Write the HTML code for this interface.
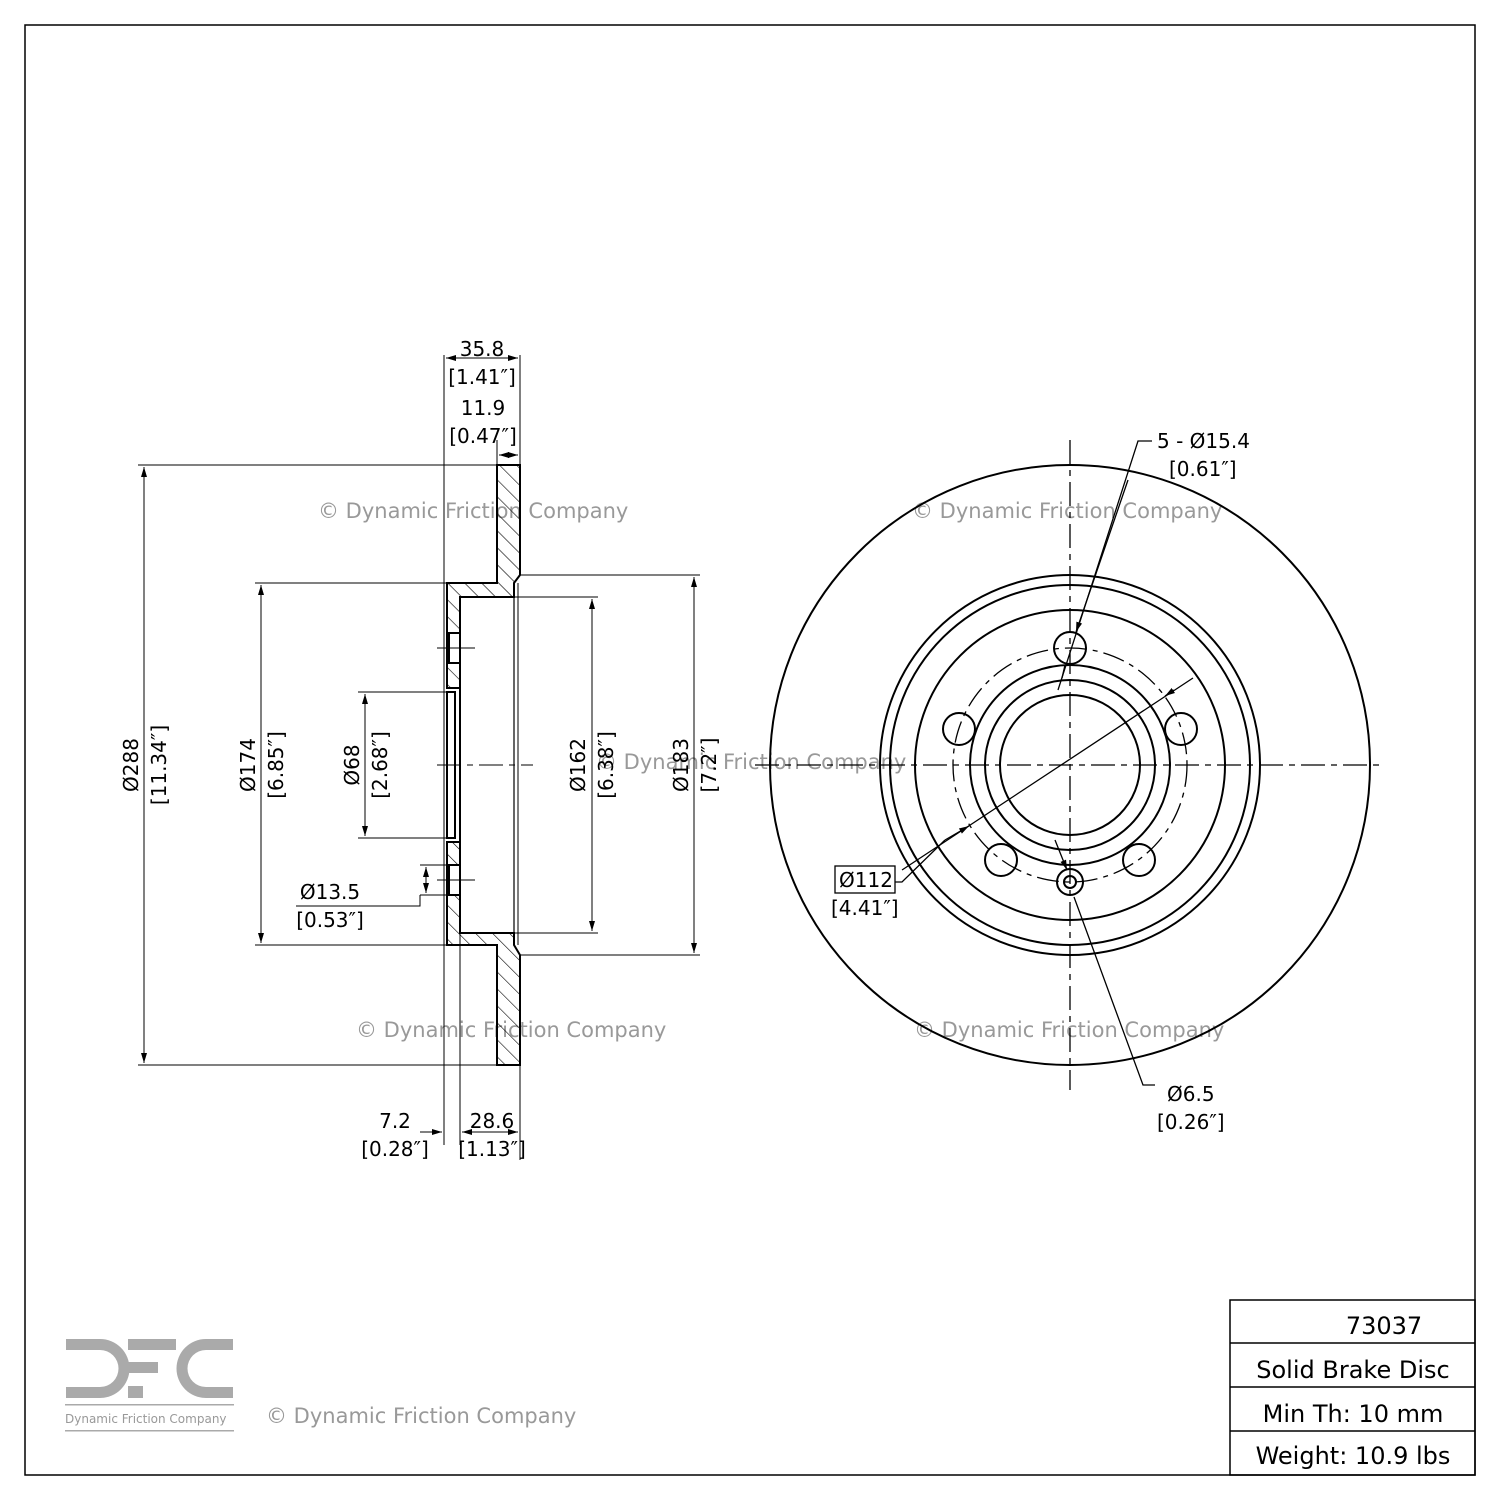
<!DOCTYPE html>
<html><head><meta charset="utf-8"><style>
body{margin:0;background:#fff}
svg{display:block}
text{font-family:"DejaVu Sans","Liberation Sans",sans-serif;}
</style></head><body>
<svg width="1500" height="1500" viewBox="0 0 1500 1500" xmlns="http://www.w3.org/2000/svg">
<defs>
<pattern id="h" patternUnits="userSpaceOnUse" width="12" height="12" patternTransform="rotate(-45)"><line x1="0" y1="0" x2="0" y2="12" stroke="#000" stroke-width="1.2"/></pattern>
<marker id="a" markerWidth="10" markerHeight="8" refX="10" refY="4" orient="auto-start-reverse" markerUnits="userSpaceOnUse"><path d="M0,1 L10,4 L0,7z" fill="#000"/></marker>
</defs>
<rect x="25" y="25" width="1450" height="1450" fill="none" stroke="#000" stroke-width="1.5"/>

<g fill="#999" font-size="21">
<text x="318" y="518">© Dynamic Friction Company</text>
<text x="912" y="518">© Dynamic Friction Company</text>
<text x="596" y="769">© Dynamic Friction Company</text>
<text x="356" y="1037">© Dynamic Friction Company</text>
<text x="914" y="1037">© Dynamic Friction Company</text>
<text x="266" y="1423">© Dynamic Friction Company</text>
</g>

<g stroke="#000" fill="url(#h)" stroke-width="2">
<path d="M497,465 H520 V575 L514,583 V597 H460 V688 H447 V583 H497 Z"/>
<path d="M497,1065 H520 V955 L514,945 V933 H460 V842 H447 V945 H497 Z"/>
<rect x="447" y="692" width="8" height="146" fill="#fff"/>
<rect x="449" y="633" width="11" height="30" fill="#fff"/>
<rect x="449" y="865" width="11" height="30" fill="#fff"/>
<line x1="460" y1="597" x2="460" y2="933"/>
<line x1="514" y1="597" x2="514" y2="933" stroke-width="1.2"/>
<line x1="518" y1="583" x2="518" y2="945" stroke-width="1"/>
</g>
<g stroke="#000" stroke-width="1" fill="none">
<line x1="444" y1="355" x2="444" y2="1145"/>
<line x1="460" y1="920" x2="460" y2="1145"/>
<line x1="520" y1="355" x2="520" y2="465"/>
<line x1="520" y1="1065" x2="520" y2="1160"/>
<line x1="497" y1="440" x2="497" y2="465"/>
<line x1="138" y1="465" x2="497" y2="465"/>
<line x1="138" y1="1065" x2="497" y2="1065"/>
<line x1="255" y1="583" x2="447" y2="583"/>
<line x1="255" y1="945" x2="447" y2="945"/>
<line x1="358" y1="692" x2="447" y2="692"/>
<line x1="358" y1="838" x2="447" y2="838"/>
<line x1="520" y1="575" x2="700" y2="575"/>
<line x1="520" y1="955" x2="700" y2="955"/>
<line x1="514" y1="597" x2="598" y2="597"/>
<line x1="514" y1="933" x2="598" y2="933"/>
<line x1="420" y1="865" x2="447" y2="865"/>
<line x1="420" y1="895" x2="447" y2="895"/>
<line x1="437" y1="648" x2="475" y2="648"/>
<line x1="437" y1="880" x2="475" y2="880"/>
<line x1="437" y1="765" x2="533" y2="765" stroke-dasharray="24,6,6,6"/>
<line x1="144" y1="467" x2="144" y2="1063" marker-start="url(#a)" marker-end="url(#a)"/>
<line x1="261" y1="585" x2="261" y2="943" marker-start="url(#a)" marker-end="url(#a)"/>
<line x1="365" y1="694" x2="365" y2="836" marker-start="url(#a)" marker-end="url(#a)"/>
<line x1="592" y1="599" x2="592" y2="931" marker-start="url(#a)" marker-end="url(#a)"/>
<line x1="694" y1="577" x2="694" y2="953" marker-start="url(#a)" marker-end="url(#a)"/>
<line x1="446" y1="358" x2="518" y2="358" marker-start="url(#a)" marker-end="url(#a)"/>
<line x1="499" y1="455" x2="518" y2="455" marker-start="url(#a)" marker-end="url(#a)"/>
<line x1="462" y1="1132" x2="518" y2="1132" marker-start="url(#a)" marker-end="url(#a)"/>
<line x1="420" y1="1132" x2="442" y2="1132" marker-end="url(#a)"/>
<line x1="426" y1="867" x2="426" y2="893" marker-start="url(#a)" marker-end="url(#a)"/>
<polyline points="296,906 420,906 420,895"/>
</g>
<g font-size="20" fill="#000" text-anchor="middle">
<text x="482" y="356">35.8</text><text x="482" y="384">[1.41″]</text>
<text x="483" y="415">11.9</text><text x="483" y="443">[0.47″]</text>
<text x="395" y="1128">7.2</text><text x="395" y="1156">[0.28″]</text>
<text x="492" y="1128">28.6</text><text x="492" y="1156">[1.13″]</text>
<text x="330" y="899">Ø13.5</text><text x="330" y="927">[0.53″]</text>
<text transform="translate(138,765) rotate(-90)">Ø288</text>
<text transform="translate(166,765) rotate(-90)">[11.34″]</text>
<text transform="translate(255,765) rotate(-90)">Ø174</text>
<text transform="translate(283,765) rotate(-90)">[6.85″]</text>
<text transform="translate(359,765) rotate(-90)">Ø68</text>
<text transform="translate(387,765) rotate(-90)">[2.68″]</text>
<text transform="translate(585,765) rotate(-90)">Ø162</text>
<text transform="translate(613,765) rotate(-90)">[6.38″]</text>
<text transform="translate(688,765) rotate(-90)">Ø183</text>
<text transform="translate(716,765) rotate(-90)">[7.2″]</text>
</g>

<g stroke="#000" fill="none" stroke-width="2">
<circle cx="1070" cy="765" r="300"/>
<circle cx="1070" cy="765" r="190"/>
<circle cx="1070" cy="765" r="180"/>
<circle cx="1070" cy="765" r="155"/>
<circle cx="1070" cy="765" r="100"/>
<circle cx="1070" cy="765" r="85"/>
<circle cx="1070" cy="765" r="70"/>
<circle cx="1070" cy="765" r="117" stroke-width="1.3" stroke-dasharray="22,6,5,6"/>
<circle cx="1070" cy="648" r="16"/>
<circle cx="959" cy="729" r="16"/>
<circle cx="1181" cy="729" r="16"/>
<circle cx="1001" cy="860" r="16"/>
<circle cx="1139" cy="860" r="16"/>
<circle cx="1070" cy="882" r="13"/>
<circle cx="1070" cy="882" r="6"/>
</g>
<g stroke="#000" fill="none" stroke-width="1.3">
<line x1="755" y1="765" x2="1385" y2="765" stroke-dasharray="24,6,6,6"/>
<line x1="1070" y1="440" x2="1070" y2="1090" stroke-dasharray="24,6,6,6"/>
<polyline points="1152,441 1138,441 1058,690" />
<line x1="1128" y1="480" x2="1076" y2="632" marker-end="url(#a)"/>
<line x1="1062" y1="678" x2="1065" y2="665" />
<line x1="1193" y1="678" x2="902" y2="870"/>
<line x1="1174" y1="690" x2="1165" y2="696" marker-end="url(#a)"/>
<line x1="945" y1="840" x2="969" y2="826" marker-end="url(#a)"/>
<polyline points="895,882 902,882 945,840"/>
<line x1="1055" y1="840" x2="1067" y2="870" marker-end="url(#a)"/>
<polyline points="1074,897 1143,1085 1155,1085"/>
<rect x="835" y="866" width="60" height="27"/>
</g>
<g font-size="20" fill="#000">
<text x="1157" y="448">5 - Ø15.4</text><text x="1169" y="476">[0.61″]</text>
<text x="839" y="887">Ø112</text><text x="831" y="915">[4.41″]</text>
<text x="1167" y="1101">Ø6.5</text><text x="1157" y="1129">[0.26″]</text>
</g>

<g stroke="#000" stroke-width="1.5" fill="none">
<rect x="1230" y="1300" width="245" height="175"/>
<line x1="1230" y1="1343" x2="1475" y2="1343"/>
<line x1="1230" y1="1387" x2="1475" y2="1387"/>
<line x1="1230" y1="1431" x2="1475" y2="1431"/>
</g>
<g font-size="24" fill="#000" text-anchor="middle">
<text x="1384" y="1334">73037</text>
<text x="1353" y="1378">Solid Brake Disc</text>
<text x="1353" y="1422">Min Th: 10 mm</text>
<text x="1353" y="1464">Weight: 10.9 lbs</text>
</g>

<g fill="#aaa">
<path d="M66,1339 H100 A27,27 0 0 1 100,1398 H66 V1387 H100 A16,16 0 0 0 100,1350 H66 Z"/>
<rect x="128" y="1339" width="48" height="11"/>
<rect x="128" y="1362" width="30" height="11"/>
<rect x="128" y="1386" width="15" height="12"/>
<path d="M233,1339 H206 A29,29 0 0 0 206,1398 H233 V1387 H206 A18,18 0 0 1 206,1350 H233 Z"/>
<rect x="65" y="1404" width="169" height="1.5"/>
<rect x="65" y="1430" width="169" height="1.5"/>
</g>
<text x="65" y="1423" font-size="12" fill="#999">Dynamic Friction Company</text>
</svg>
</body></html>
